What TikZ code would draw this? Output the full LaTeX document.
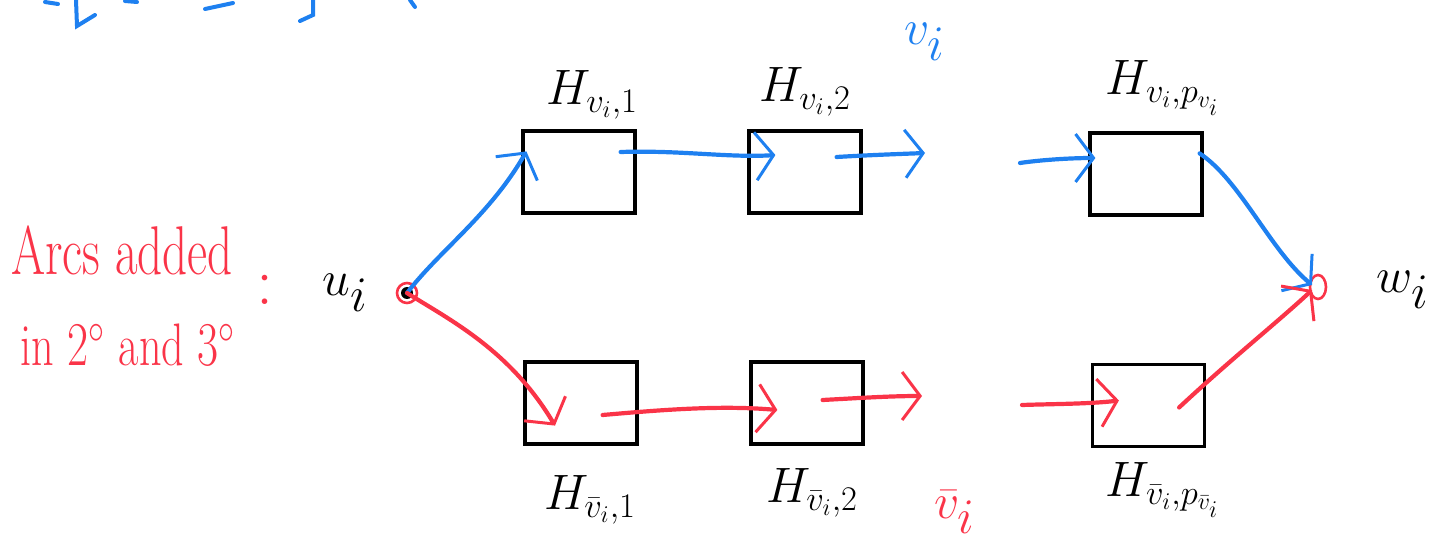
\documentclass[tikz,border=0pt]{standalone}
\usetikzlibrary{arrows.meta,calc}
\definecolor{pblue}{RGB}{30,128,240}
\definecolor{pred}{RGB}{250,52,72}
\begin{document}
\begin{tikzpicture}[x=0.5pt,y=-0.5pt,
  hbox/.style={draw=black,line width=1.6pt,minimum width=56pt,minimum height=41pt,inner sep=0pt},
  tipb/.style={-{Straight Barb[length=9pt,width=24pt,line width=1.5pt]}},
  barrow/.style={draw=pblue,line width=2.1pt,line cap=round,tipb},
  rarrow/.style={draw=pred,line width=2.1pt,line cap=round,tipb},
  lbl/.style={inner sep=0pt,font=\fontsize{23}{27}\selectfont},
  big/.style={inner sep=0pt,font=\fontsize{38}{44}\selectfont},
  stroke/.style={draw=pblue,line width=2pt,line cap=round}
]
\useasboundingbox (0,0) rectangle (1453,551);
% cut-off blue strokes at the top
\draw[stroke] (45,2) -- (58,4);
\draw[stroke] (76,0) -- (77,26) -- (95,15);
\draw[stroke] (125,1) -- (137,2);
\draw[stroke] (205,9) -- (233,3);
\draw[stroke] (313,0) -- (313,15) -- (300,21);
\draw[stroke] (410,0) -- (415,7);
% boxes
\node[hbox] (b1) at (579,172) {};
\node[hbox] (b2) at (805,172) {};
\node[hbox] (b3) at (1146,174) {};
\node[hbox] (b4) at (581,403) {};
\node[hbox] (b5) at (807,403) {};
\node[hbox] (b6) at (1148.5,405.5) {};
% vertices
\coordinate (u) at (407,293);
\coordinate (w) at (1318,287);
\fill[black] (u) circle (3pt);
\draw[pred,line width=1.3pt] (u) circle (5pt);
\draw[pred,line width=1.3pt] (w) ellipse (4pt and 6pt);
% free ends near v_i and bar v_i
\coordinate (vin) at (925,153);
\coordinate (vout) at (1020,163);
\coordinate (nvin) at (922,396);
\coordinate (nvout) at (1022,405);
% labels
\node[lbl] (l1) at (592,95) {$H_{v_i,1}$};
\node[lbl] (l2) at (805,92) {$H_{v_i,2}$};
\node[lbl] (l3) at (1163,88) {$H_{v_i,p_{v_i}}$};
\node[lbl] (l4) at (590,500) {$H_{\bar v_i,1}$};
\node[lbl] (l5) at (812,493) {$H_{\bar v_i,2}$};
\node[lbl] (l6) at (1163,490) {$H_{\bar v_i,p_{\bar v_i}}$};
\node[big,text=pblue] (lv) at (925,42) {$v_i$};
\node[big,text=pred] (lnv) at (955,512) {$\bar v_i$};
\node[big] (lu) at (345,293) {$u_i$};
\node[big] (lw) at (1403,290) {$w_i$};
\node[inner sep=0pt,text=pred,font=\fontsize{30}{36}\selectfont] (arcs) at (122,250) {\scalebox{0.82}[1.15]{Arcs added}};
\node[inner sep=0pt,text=pred,font=\fontsize{24}{30}\selectfont] (in23) at (128,345) {\scalebox{0.92}[1.25]{in $2^\circ$ and $3^\circ$}};
\node[inner sep=0pt,text=pred,font=\fontsize{34}{40}\selectfont] (colon) at (265,290) {:};
% blue arcs
\draw[barrow] (u) .. controls (440,250) and (490,215) .. ($(b1.north west)+(5,22)$);
\draw[barrow] ($(b1.east)+(-16,-20)$) .. controls (680,150) and (730,158) .. ($(b2.west)+(28,-17)$);
\draw[barrow] ($(b2.east)+(-26,-15)$) .. controls (870,155) and (900,154) .. (vin);
\draw[barrow] (vout) .. controls (1040,160) and (1070,158) .. ($(b3.west)+(7,-16)$);
\draw[barrow] ($(b3.north east)+(-4,22)$) .. controls (1240,180) and (1270,250) .. ($(w)+(-6,-2)$);
% red arcs
\draw[rarrow] (u) .. controls (450,320) and (510,350) .. ($(b4.south)+(-26,-20)$);
\draw[rarrow] ($(b4.east)+(-36,12)$) .. controls (660,410) and (720,405) .. ($(b5.west)+(28,7)$);
\draw[rarrow] ($(b5.east)+(-42,-3)$) .. controls (860,398) and (890,396) .. (nvin);
\draw[rarrow] (nvout) .. controls (1050,404) and (1090,404) .. ($(b6.west)+(28,-5)$);
\draw[rarrow] ($(b6.east)+(-27,2)$) .. controls (1230,360) and (1280,320) .. ($(w)+(-6,3)$);
\end{tikzpicture}
\end{document}
